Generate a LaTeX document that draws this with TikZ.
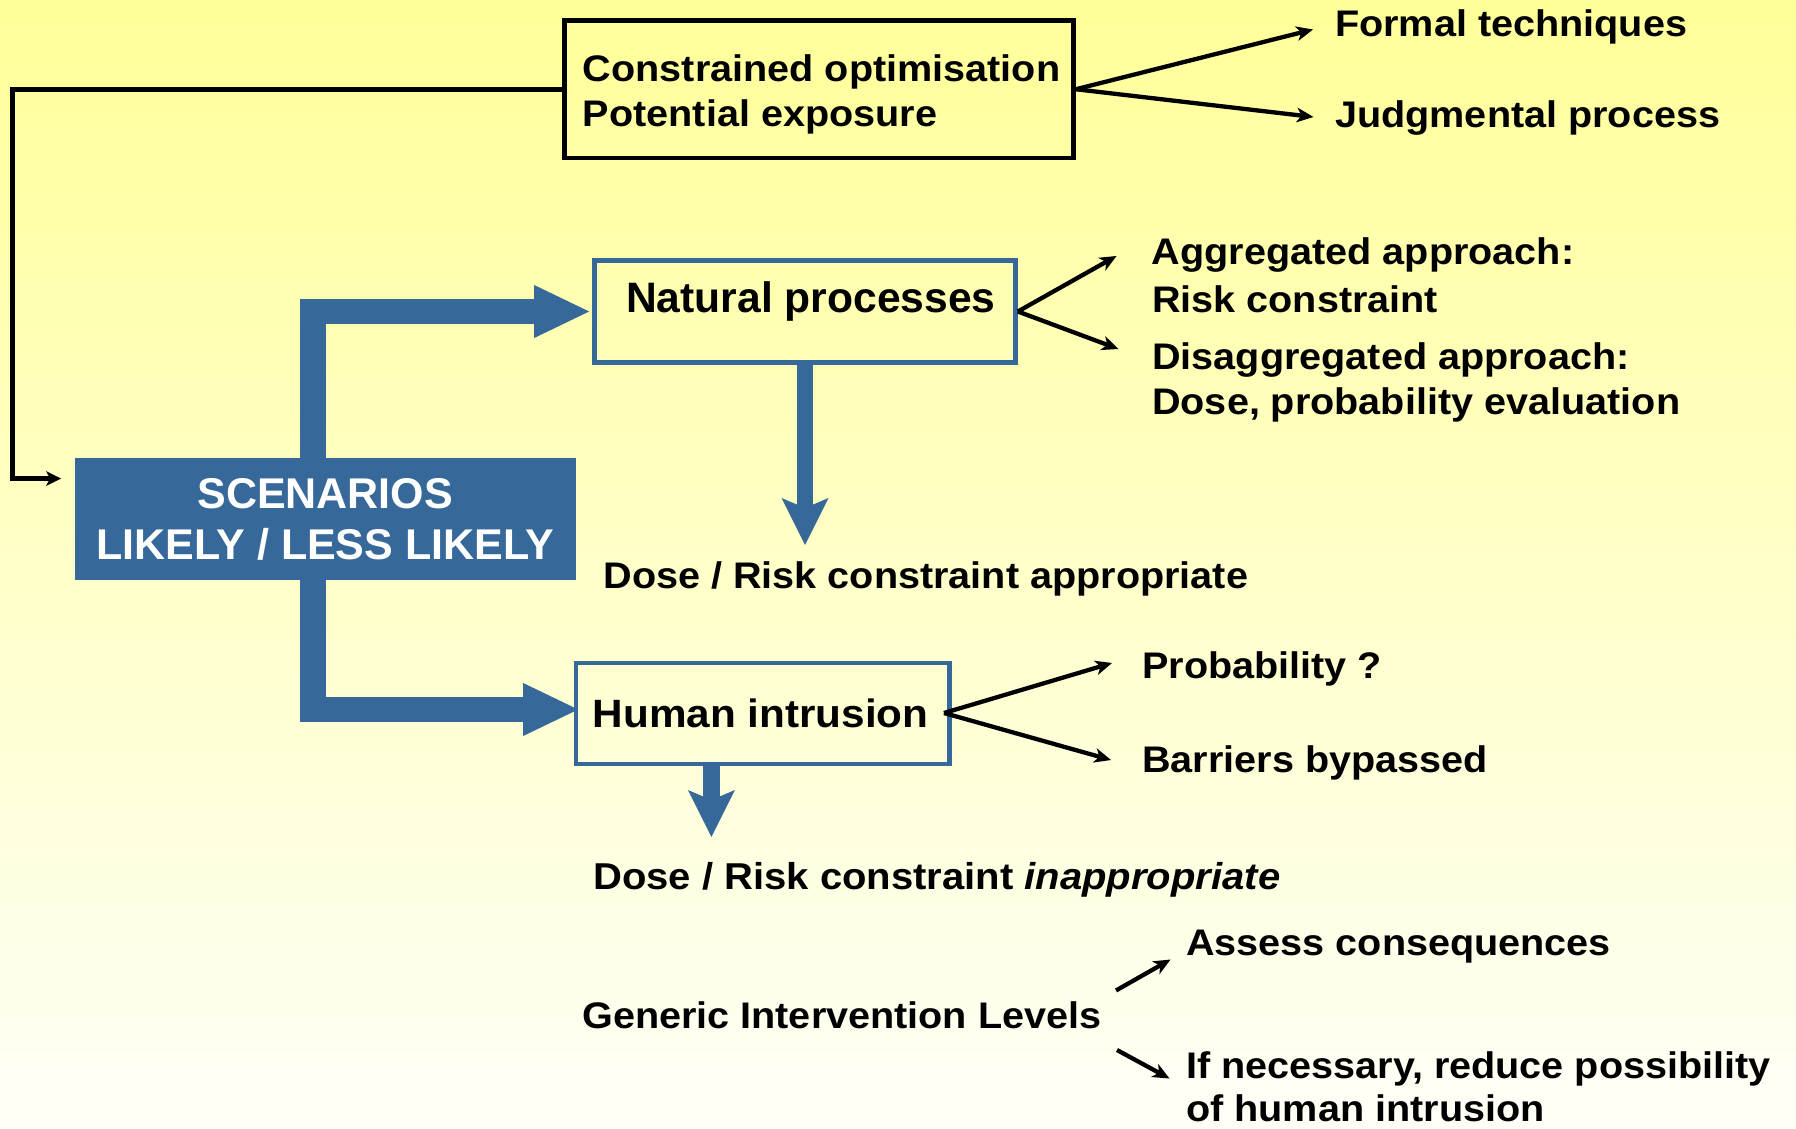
\documentclass[tikz,border=0pt]{standalone}
\usepackage{fontspec}
\setmainfont{Liberation Sans}
\newfontfamily\txtf{Liberation Sans}[FakeStretch=1.07]
\newfontfamily\plainf{Liberation Sans}
\usetikzlibrary{arrows.meta}
\definecolor{bgtop}{RGB}{255,255,153}
\definecolor{bgbot}{RGB}{255,255,248}
\definecolor{icblue}{RGB}{54,104,153}
\newcommand{\ftxt}{\txtf\bfseries\fontsize{37pt}{46pt}\selectfont}
\begin{document}
\begin{tikzpicture}[x=1pt,y=-1pt,
  txt/.style={inner sep=0pt, anchor=base west, font=\ftxt, text=black},
  blackbox/.style={draw=black, line width=4.8pt, inner sep=0pt},
  bluebox/.style={draw=icblue, line width=4.8pt, inner sep=0pt},
  scenbox/.style={fill=icblue, inner sep=0pt, text=white, align=center,
     font=\plainf\bfseries\fontsize{43pt}{50.7pt}\selectfont},
  fatarrow/.style={draw=icblue, line width=25.5pt, line join=miter,
     -{Triangle[length=55pt,width=53pt,line width=0pt]}},
  downarrow/.style={draw=icblue, line width=16pt,
     -{Stealth[length=47pt,width=47pt,inset=10pt,line width=0pt]}},
  thinarrow/.style={draw=black, line width=4.3pt,
     -{Stealth[length=17pt,width=15pt,inset=5pt,line width=0pt]}},
  fbline/.style={draw=black, line width=4.8pt, line join=miter,
     -{Stealth[length=15pt,width=15pt,inset=4pt,line width=0pt]}}
]
\useasboundingbox (0,0) rectangle (1796,1129);
\shade[top color=bgtop, bottom color=bgbot] (0,0) rectangle (1796,1129);

% boxes
\node[blackbox, minimum width=509.2pt, minimum height=137.5pt] (top) at (818.9,89.25) {};
\node[bluebox, minimum width=420.9pt, minimum height=101.4pt] (nat) at (805,311.5) {};
\node[bluebox, minimum width=373.3pt, minimum height=101pt] (hum) at (762.7,713.5) {};

% fat arrows from scenarios
\coordinate (trunk) at (313,519);
\draw[fatarrow] (trunk) |- ([xshift=-3pt]nat.west);
\draw[fatarrow] (trunk) |- ([xshift=4.5pt,yshift=4pt]hum.west);

\node[scenbox, minimum width=500.5pt, minimum height=121.7pt] (scen) at (325.25,519.15)
  {SCENARIOS\\LIKELY / LESS LIKELY};

% feedback line
\coordinate (fbcorner) at (12.5,89.25);
\coordinate (fbend) at (61,478.5);
\draw[fbline] (top.west) -- (fbcorner) |- (fbend);

% texts
\node[txt] (co) at (582.7,82) {Constrained optimisation};
\node[txt] (pe) at (582.7,127) {Potential exposure};
\node[txt] (ft) at (1335,36.5) {Formal techniques};
\node[txt] (jp) at (1335,127.5) {Judgmental process};
\node[txt, font=\plainf\bfseries\fontsize{42.6pt}{48pt}\selectfont] (np) at (626,312.7) {Natural processes};
\node[txt] (ag) at (1151.7,264) {Aggregated approach:};
\node[txt] (rc) at (1152,312.7) {Risk constraint};
\node[txt] (dg) at (1152,369.5) {Disaggregated approach:};
\node[txt] (dp) at (1152,414) {Dose, probability evaluation};
\node[txt] (dra) at (603.3,588.3) {Dose / Risk constraint appropriate};
\node[txt, font=\txtf\bfseries\fontsize{39.5pt}{46pt}\selectfont] (hi) at (592.5,727.3) {Human intrusion};
\node[txt] (pr) at (1142,678.5) {Probability ?};
\node[txt] (bb) at (1142,772) {Barriers bypassed};
\node[txt, font=\txtf\bfseries\fontsize{37.4pt}{46pt}\selectfont] (dri) at (593,889) {Dose / Risk constraint \textit{inappropriate}};
\node[txt] (gil) at (582,1028) {Generic Intervention Levels};
\node[txt] (ac) at (1186,955.5) {Assess consequences};
\node[txt] (inr) at (1186,1078) {If necessary, reduce possibility};
\node[txt] (ohi) at (1186,1121) {of human intrusion};

% blue down arrows
\coordinate (nattip) at (805,545);
\coordinate (humtip) at (711.4,837);
\draw[downarrow] (nat.south) -- (nattip);
\draw[downarrow, line width=17pt] ([xshift=-51.3pt]hum.south) -- (humtip);

% black arrows
\coordinate (fttip) at (1313,29.5);
\coordinate (jptip) at (1313.5,117);
\draw[thinarrow] (top.east) -- (fttip);
\draw[thinarrow] (top.east) -- (jptip);

\coordinate (agtip) at (1116.5,256);
\coordinate (dgtip) at (1118.5,349);
\draw[thinarrow] (nat.east) -- (agtip);
\draw[thinarrow] (nat.east) -- (dgtip);

\coordinate (humout) at (944,713);
\coordinate (prtip) at (1112,663);
\coordinate (bbtip) at (1111,760);
\draw[thinarrow] (humout) -- (prtip);
\draw[thinarrow] (humout) -- (bbtip);

\coordinate (g1s) at (1116,990.5);
\coordinate (g1e) at (1170.5,959.5);
\coordinate (g2s) at (1117,1050);
\coordinate (g2e) at (1169.5,1078.5);
\draw[thinarrow] (g1s) -- (g1e);
\draw[thinarrow] (g2s) -- (g2e);
\end{tikzpicture}
\end{document}
